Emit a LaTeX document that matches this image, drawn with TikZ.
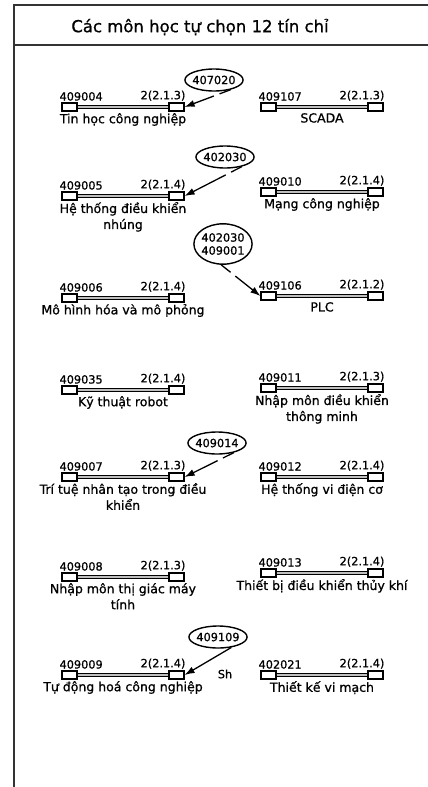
\documentclass[tikz,border=0pt]{standalone}
\usepackage{fontspec}
\setmainfont{DejaVu Sans}[FakeBold=0.9]
\usetikzlibrary{arrows.meta,positioning,shapes.geometric}

% one elective: bar with two end boxes, code, credits and name below
\newcommand{\course}[6]{%
  \node[cbox] (#1l) at (#2-53.5,#3) {};
  \node[cbox] (#1r) at (#2+53.5,#3) {};
  \draw[bar] (#1l.east) -- (#1r.west);
  \node[code, anchor=south west] (#1c) at ([xshift=-2pt,yshift=1.5pt]#1l.north west) {#4};
  \node[code, anchor=south east] (#1k) at ([xshift=1pt,yshift=1.5pt]#1r.north east) {#5};
  \node[cname, anchor=north] (#1n) at (#2,#3+6) {#6};
}

\begin{document}
\begin{tikzpicture}[
  x=1pt, y=-1pt,
  frame/.style={line width=2pt, color=black!80},
  cbox/.style={draw, line width=1.2pt, fill=white, minimum width=15pt,
               minimum height=8pt, inner sep=0pt},
  bar/.style={line width=1.1pt, double=black!25, double distance=2pt},
  code/.style={font=\fontsize{11.3}{13}\selectfont, inner sep=0pt},
  cname/.style={font=\fontsize{12.5}{16}\selectfont, align=center, inner sep=0pt},
  bubble/.style={ellipse, draw, line width=1.4pt, inner xsep=-1pt, inner ysep=3.5pt,
                 align=center, font=\fontsize{11.3}{13}\selectfont},
  pre/.style={-{Latex[length=10pt,width=7pt]}, line width=1.3pt,
              dash pattern=on 12pt off 6pt on 80pt off 1pt},
  preline/.style={-{Latex[length=10pt,width=7pt]}, line width=1.3pt}
]
  \useasboundingbox (0,0) rectangle (428,787);
  \draw[frame] (14,787) -- (14,5) -- (428,5);
  \draw[frame] (14,45) -- (428,45);
  \node[font=\fontsize{16.5}{19}\selectfont] (title) at (200,27) {Các môn học tự chọn 12 tín chỉ};

  % left column
  \course{tinhoc}{123}{107}{409004}{2(2.1.3)}{Tin học công nghiệp}
  \course{nhung}{123}{196}{409005}{2(2.1.4)}{Hệ thống điều khiển\\nhúng}
  \course{mohinh}{123}{298}{409006}{2(2.1.4)}{Mô hình hóa và mô phỏng}
  \course{robot}{123}{390}{409035}{2(2.1.4)}{Kỹ thuật robot}
  \course{tritue}{123}{477}{409007}{2(2.1.3)}{Trí tuệ nhân tạo trong điều\\khiển}
  \course{thigiac}{123}{577}{409008}{2(2.1.3)}{Nhập môn thị giác máy\\tính}
  \course{tudong}{123}{675}{409009}{2(2.1.4)}{Tự động hoá công nghiệp}

  % right column
  \course{scada}{322}{107}{409107}{2(2.1.3)}{SCADA}
  \course{mang}{322}{192}{409010}{2(2.1.4)}{Mạng công nghiệp}
  \course{plc}{322}{296}{409106}{2(2.1.2)}{PLC}
  \course{thongminh}{322}{388}{409011}{2(2.1.3)}{Nhập môn điều khiển\\thông minh}
  \course{vidien}{322}{477}{409012}{2(2.1.4)}{Hệ thống vi điện cơ}
  \course{thuykhi}{322}{573}{409013}{2(2.1.4)}{Thiết bị điều khiển thủy khí}
  \course{vimach}{322}{675}{402021}{2(2.1.4)}{Thiết kế vi mạch}

  % prerequisites
  \node[bubble] (p407020) at (214,80) {407020};
  \node[bubble] (p402030) at (225,157) {402030};
  \node[bubble] (p409001) at (223,244) {402030\\409001};
  \node[bubble] (p409014) at (217,443) {409014};
  \node[bubble] (p409109) at (218,637) {409109};
  \node[code] (sh) at (225,674) {Sh};

  \draw[pre] (p407020.-30) -- (tinhocr.east);
  \draw[pre] (p402030.-30) -- (nhungr.east);
  \draw[pre] (p409001.-95) -- (plcl.west);
  \draw[pre] (p409014.-30) -- (trituer.east);
  \draw[preline] (p409109.-38) -- (tudongr.east);
\end{tikzpicture}
\end{document}
